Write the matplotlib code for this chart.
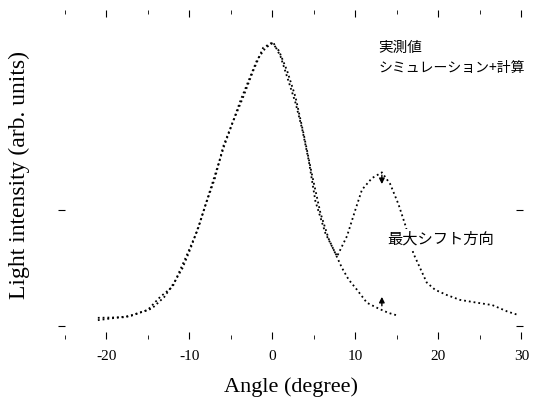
import matplotlib
matplotlib.use('Agg')
import matplotlib.pyplot as plt

plt.rcParams['font.family'] = ['Liberation Serif', 'Noto Sans CJK JP', 'DejaVu Sans']

# measured curve (two peaks)
measured_x = [-21, -17.7, -15, -13.5, -12, -11.3, -10.2, -9, -8, -6.9, -5.9, -4.8, -3.5, -2.3, -1.1, 0.1,
              1, 1.9, 2.8, 3.6, 4.4, 5.2, 6.4, 7.8, 9, 10, 10.8, 12, 13.2, 14.2, 15.2, 16, 17, 17.8,
              18.6, 19.6, 21, 22.6, 24.7, 26.5, 28.3, 29.6]
measured_y = [0.028, 0.03, 0.055, 0.1, 0.135, 0.18, 0.25, 0.33, 0.42, 0.51, 0.62, 0.70, 0.79, 0.88, 0.96, 0.98,
              0.93, 0.85, 0.77, 0.68, 0.57, 0.43, 0.32, 0.24, 0.31, 0.40, 0.47, 0.51, 0.53, 0.49, 0.42, 0.35, 0.25, 0.20,
              0.15, 0.125, 0.107, 0.09, 0.08, 0.072, 0.05, 0.038]

# simulation curve (single peak)
sim_x = [-21, -17, -14.5, -13, -11.8, -10.8, -9.8, -8.8, -7.8, -6.8, -5.8, -4.8, -3.8, -2.8, -1.8, -0.8, 0,
         0.8, 1.8, 2.8, 3.8, 4.8, 5.8, 6.8, 7.6, 8.4, 9.2, 10.2, 11.4, 12.8, 14, 15.2]
sim_y = [0.02, 0.035, 0.06, 0.1, 0.15, 0.2, 0.27, 0.35, 0.44, 0.53, 0.62, 0.70, 0.78, 0.85, 0.92, 0.96, 0.975,
         0.95, 0.88, 0.79, 0.66, 0.52, 0.39, 0.30, 0.25, 0.20, 0.16, 0.125, 0.08, 0.06, 0.045, 0.035]

x_ticks = [-20, -10, 0, 10, 20, 30]
x_minor = [-25, -15, -5, 5, 15, 25]
y_ticks = [0, 0.4]

jp = ['Noto Sans CJK JP', 'DejaVu Sans']

fig = plt.figure(figsize=(5.37, 4.05), dpi=100)
ax = fig.add_axes([0.108, 0.163, 0.866, 0.812])

ax.plot(measured_x, measured_y, linestyle=':', color='black', linewidth=1.3)
ax.plot(sim_x, sim_y, linestyle=':', color='black', linewidth=1.3)

# legend text
ax.text(12.8, 0.96, '実測値', fontsize=10.5, va='center', family=jp)
ax.text(12.8, 0.89, 'シミュレーション+計算', fontsize=10, va='center', family=jp)

# label for the peak position, with arrows
ax.text(13.9, 0.30, '最大シフト方向', fontsize=11, va='center', family=jp,
        bbox=dict(facecolor='white', edgecolor='none', pad=1))
ax.annotate('', xy=(13.2, 0.48), xytext=(13.2, 0.53),
            arrowprops=dict(arrowstyle='-|>', color='black', lw=1, mutation_scale=8))
ax.annotate('', xy=(13.2, 0.11), xytext=(13.2, 0.06),
            arrowprops=dict(arrowstyle='-|>', color='black', lw=1, mutation_scale=8))

ax.set_xlim(-25.8, 30.2)
ax.set_ylim(-0.045, 1.09)
ax.set_xticks(x_ticks)
ax.set_xticklabels([str(t) for t in x_ticks], fontsize=11)
ax.set_xticks(x_minor, minor=True)
ax.set_yticks(y_ticks)
ax.set_yticklabels([])
ax.tick_params(direction='in', top=True, right=True, length=5, pad=8)
ax.tick_params(which='minor', direction='in', top=True, length=3)

for s in ax.spines.values():
    s.set_visible(False)

ax.set_xlabel('Angle (degree)', fontsize=16, labelpad=10)
ax.set_ylabel('Light intensity (arb. units)', fontsize=17, labelpad=12)

fig.savefig('out.png', dpi=100)
